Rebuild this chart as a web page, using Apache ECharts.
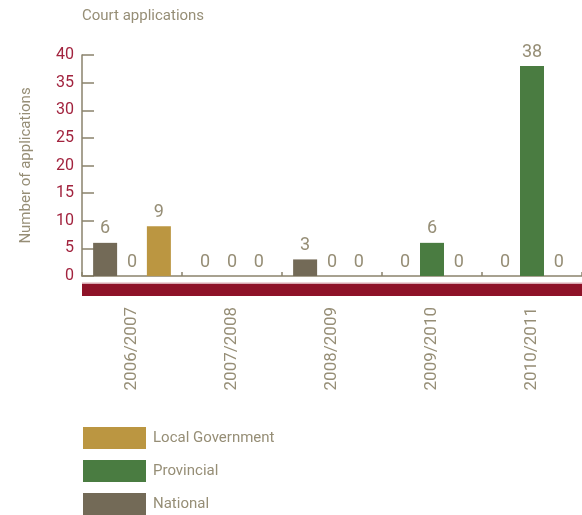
<!DOCTYPE html>
<html>
<head>
<meta charset="utf-8">
<script src="https://cdn.jsdelivr.net/npm/echarts@6/dist/echarts.min.js"></script>
<style>
  html, body { margin: 0; padding: 0; background: #ffffff; }
  #chart { width: 582px; height: 515px; }
</style>
</head>
<body>
<div id="chart"></div>
<script>
// Court applications per financial year, by sphere of government
var years = ['2006/2007', '2007/2008', '2008/2009', '2009/2010', '2010/2011'];
var national = [6, 0, 3, 0, 0];
var provincial = [0, 0, 0, 6, 38];
var localGovernment = [9, 0, 0, 0, 0];
var yTicks = { min: 0, max: 40, step: 5 };

var FONT = "Roboto, 'Liberation Sans', sans-serif";
var WEIGHT = 400;
var TEXT = '#968e76';
var AXIS = '#8a826c';

var chart = echarts.init(document.getElementById('chart'), null, { renderer: 'canvas' });

function barSeries(name, data, color) {
  return {
    name: name,
    type: 'bar',
    data: data,
    barWidth: 24,
    barGap: '12%',
    itemStyle: { color: color },
    label: {
      show: true,
      position: 'top',
      distance: 5,
      color: TEXT,
      fontFamily: FONT,
      fontWeight: WEIGHT,
      fontSize: 18
    }
  };
}

chart.setOption({
  animation: false,
  title: {
    text: 'Court applications',
    left: 82,
    top: 9,
    padding: 0,
    textStyle: { color: TEXT, fontFamily: FONT, fontWeight: WEIGHT, fontSize: 15 }
  },
  legend: {
    orient: 'vertical',
    left: 83,
    top: 427,
    height: 100,
    padding: 0,
    itemWidth: 63,
    itemHeight: 22,
    itemGap: 11,
    icon: 'rect',
    data: ['Local Government', 'Provincial', 'National'],
    textStyle: { color: TEXT, fontFamily: FONT, fontWeight: WEIGHT, fontSize: 15, padding: [0, 0, 0, 2] }
  },
  grid: { left: 82, right: 0, top: 55, bottom: 239, containLabel: false },
  xAxis: {
    type: 'category',
    data: years,
    axisLine: { lineStyle: { color: AXIS, width: 1.5 } },
    axisTick: { show: true, inside: true, length: 4, lineStyle: { color: AXIS, width: 1.5 } },
    axisLabel: {
      rotate: 90,
      margin: 31,
      color: TEXT,
      fontFamily: FONT,
      fontWeight: WEIGHT,
      fontSize: 17
    }
  },
  yAxis: {
    type: 'value',
    min: yTicks.min,
    max: yTicks.max,
    interval: yTicks.step,
    name: 'Number of applications',
    nameLocation: 'middle',
    nameRotate: 90,
    nameGap: 48,
    nameTextStyle: { color: TEXT, fontFamily: FONT, fontWeight: WEIGHT, fontSize: 15 },
    splitLine: { show: false },
    axisLine: { show: true, lineStyle: { color: AXIS, width: 1.5 } },
    axisTick: { show: true, inside: true, length: 12, lineStyle: { color: AXIS, width: 1.5 } },
    axisLabel: { color: '#a2233e', fontFamily: FONT, fontWeight: WEIGHT, fontSize: 16, margin: 8 }
  },
  graphic: [
    { type: 'rect', shape: { x: 82, y: 282.5, width: 500, height: 1.5 }, style: { fill: '#d9a9b2' }, silent: true },
    { type: 'rect', shape: { x: 82, y: 284, width: 500, height: 12 }, style: { fill: '#8e1228' }, silent: true }
  ],
  series: [
    barSeries('National', national, '#736a57'),
    barSeries('Provincial', provincial, '#4a7c41'),
    barSeries('Local Government', localGovernment, '#bb9641')
  ]
});
</script>
</body>
</html>
